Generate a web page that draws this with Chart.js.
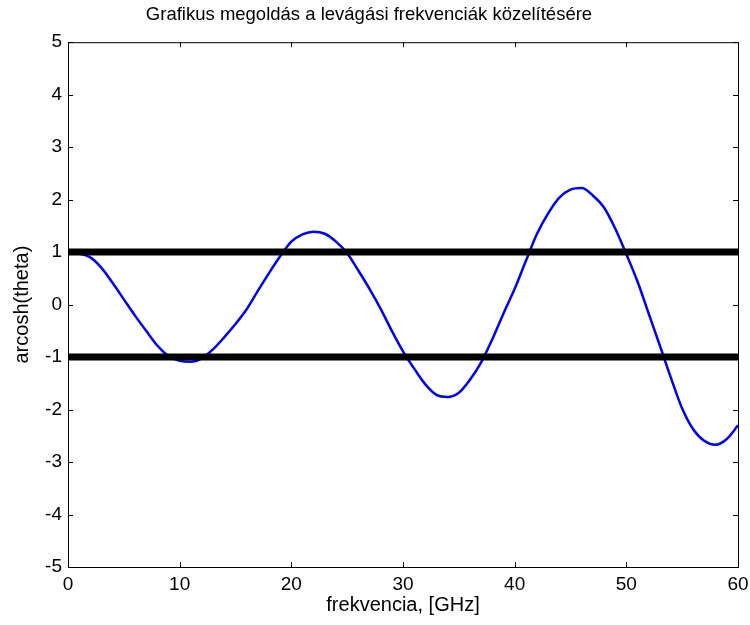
<!DOCTYPE html>
<html>
<head>
<meta charset="utf-8">
<script src="https://cdn.jsdelivr.net/npm/chart.js@4"></script>
<style>
  body { margin: 0; background: #fff; }
  #wrap { width: 750px; height: 625px; }
</style>
</head>
<body>
<div id="wrap"><canvas id="chart" width="750" height="625"></canvas></div>
<script>
// frequency axis, GHz
const freq = [
    0, 1, 2, 3, 4, 5, 6, 7, 8, 9,
    10, 11, 12, 13, 14, 15, 16, 17, 18, 19,
    20, 21, 22, 23, 24, 25, 26, 27, 28, 29,
    30, 31, 32, 33, 34, 35, 36, 37, 38, 39,
    40, 41, 42, 43, 44, 45, 46, 47, 48, 49,
    50, 51, 52, 53, 54, 55, 56, 57, 58, 59, 60
]

// arcosh(theta)
const theta = [
    1.00, 0.97, 0.90, 0.70, 0.41, 0.10, -0.21, -0.50, -0.78, -0.98,
    -1.07, -1.09, -1.02, -0.85, -0.62, -0.37, -0.09, 0.26, 0.60, 0.92,
    1.20, 1.34, 1.39, 1.35, 1.20, 0.98, 0.65, 0.30, -0.08, -0.50,
    -0.89, -1.22, -1.52, -1.72, -1.76, -1.68, -1.43, -1.10, -0.66, -0.17,
    0.30, 0.83, 1.35, 1.74, 2.04, 2.19, 2.22, 2.08, 1.85, 1.45,
    0.96, 0.44, -0.17, -0.78, -1.40, -1.98, -2.38, -2.60, -2.67, -2.56, -2.30
]

// the two limit lines
const upperLimit = [[0, 1], [60, 1]]
const lowerLimit = [[0, -1], [60, -1]]

const xTicks = [0, 10, 20, 30, 40, 50, 60]
const yTicks = [-5, -4, -3, -2, -1, 0, 1, 2, 3, 4, 5]

const toPoints = (xs, ys) => xs.map((x, i) => ({ x: x, y: ys[i] }))
const pairPoints = (pairs) => pairs.map(p => ({ x: p[0], y: p[1] }))

// matlab style box with inward tick marks
const boxPlugin = {
    id: "box",
    afterDraw(chart) {
        const c = chart.ctx
        const a = chart.chartArea
        const sx = chart.scales.x
        const sy = chart.scales.y
        c.save()
        c.strokeStyle = "#000"
        c.lineWidth = 1
        c.strokeRect(a.left + 0.5, a.top + 0.5, a.right - a.left, a.bottom - a.top)
        c.beginPath()
        xTicks.forEach(v => {
            const px = Math.round(sx.getPixelForValue(v)) + 0.5
            c.moveTo(px, a.bottom); c.lineTo(px, a.bottom - 5)
            c.moveTo(px, a.top); c.lineTo(px, a.top + 5)
        })
        yTicks.forEach(v => {
            const py = Math.round(sy.getPixelForValue(v)) + 0.5
            c.moveTo(a.left, py); c.lineTo(a.left + 5, py)
            c.moveTo(a.right, py); c.lineTo(a.right - 5, py)
        })
        c.stroke()
        c.restore()
    }
}

const family = "'Liberation Sans', Arial, sans-serif"
const tickFont = { family: family, size: 19 }
const labelFont = { family: family, size: 20 }

new Chart(document.getElementById("chart"), {
    type: "scatter",
    data: {
        datasets: [
            {
                data: pairPoints(upperLimit),
                showLine: true,
                borderColor: "#000",
                borderWidth: 7,
                pointRadius: 0
            },
            {
                data: pairPoints(lowerLimit),
                showLine: true,
                borderColor: "#000",
                borderWidth: 7,
                pointRadius: 0
            },
            {
                data: toPoints(freq, theta),
                showLine: true,
                borderColor: "#0000ff",
                borderWidth: 2.5,
                cubicInterpolationMode: "monotone",
                pointRadius: 0
            }
        ]
    },
    options: {
        responsive: false,
        animation: false,
        layout: { padding: { left: 0, right: 12, top: 0, bottom: 0 } },
        scales: {
            x: {
                type: "linear",
                min: 0,
                max: 60,
                grid: { display: false, drawTicks: false },
                border: { display: false },
                ticks: { stepSize: 10, color: "#000", font: tickFont, padding: 6, maxRotation: 0 },
                title: { display: true, text: "frekvencia, [GHz]", color: "#000", font: labelFont, padding: { top: 0, bottom: 8 } },
                afterFit(scale) {
                    scale.height = 58
                    scale.paddingRight = 0
                }
            },
            y: {
                min: -5,
                max: 5,
                grid: { display: false, drawTicks: false },
                border: { display: false },
                ticks: { stepSize: 1, color: "#000", font: tickFont, padding: 6 },
                title: { display: true, text: "arcosh(theta)", color: "#000", font: labelFont, padding: { top: 10, bottom: 0 } },
                afterFit(scale) { scale.width = 68 }
            }
        },
        plugins: {
            legend: { display: false },
            tooltip: { enabled: false },
            title: {
                display: true,
                text: "Grafikus megoldás a levágási frekvenciák közelítésére",
                color: "#000",
                font: { family: family, size: 18.5, weight: "normal" },
                padding: { top: 4, bottom: 16 }
            }
        }
    },
    plugins: [boxPlugin]
})
</script>
</body>
</html>
